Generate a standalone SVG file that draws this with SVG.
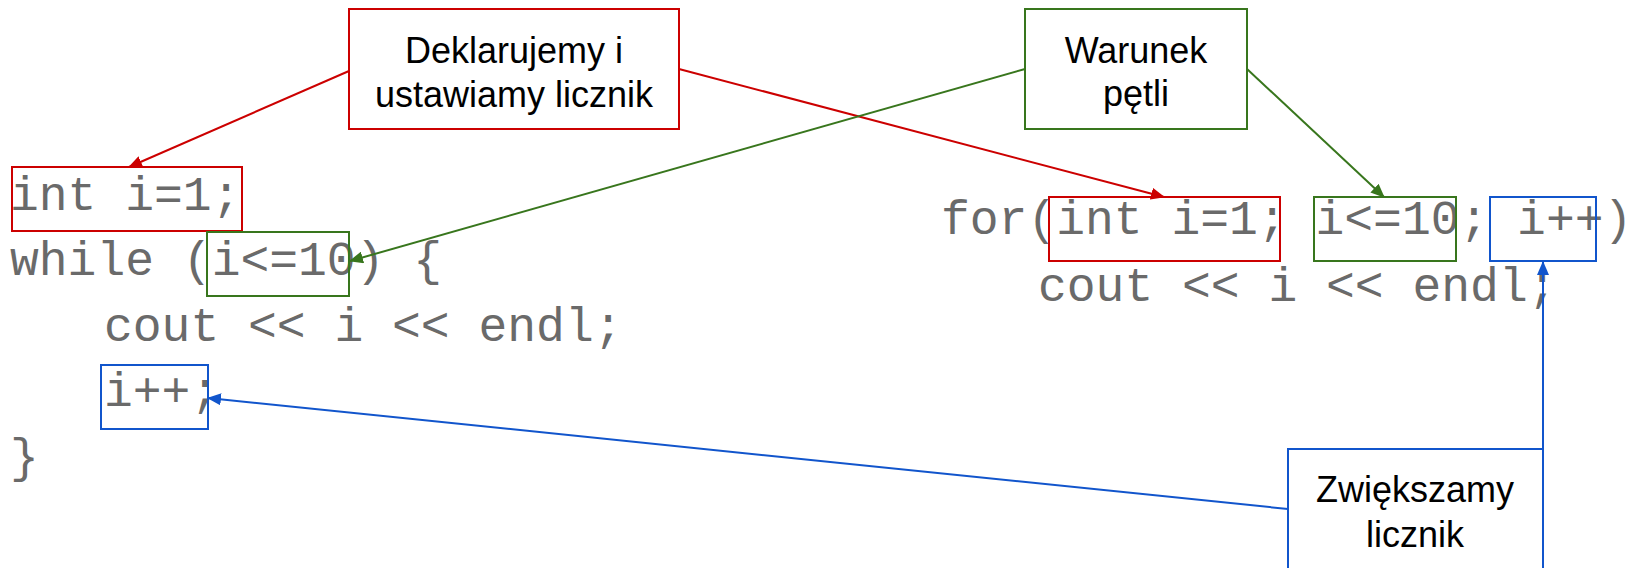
<svg xmlns="http://www.w3.org/2000/svg" width="1628" height="568" viewBox="0 0 1628 568">
<style>
.code{font-family:"Liberation Mono","Courier New",monospace;font-size:48px;fill:#6a6a6a;white-space:pre}
.lbl{font-family:"Liberation Sans",Arial,sans-serif;font-size:36px;fill:#000;text-anchor:middle}
.r{stroke:#cc0000;stroke-width:2;fill:none}
.g{stroke:#38761d;stroke-width:2;fill:none}
.b{stroke:#1155cc;stroke-width:2;fill:none}
.lr{stroke:#cc0000;stroke-width:2;fill:#fff}
.lg{stroke:#38761d;stroke-width:2;fill:#fff}
.lb{stroke:#1155cc;stroke-width:2;fill:#fff}
</style>
<defs>
<marker id="ar" markerUnits="userSpaceOnUse" markerWidth="14" markerHeight="12" refX="13" refY="6" orient="auto"><path d="M0,0 L14,6 L0,12 z" fill="#cc0000"/></marker>
<marker id="ag" markerUnits="userSpaceOnUse" markerWidth="14" markerHeight="12" refX="13" refY="6" orient="auto"><path d="M0,0 L14,6 L0,12 z" fill="#38761d"/></marker>
<marker id="ab" markerUnits="userSpaceOnUse" markerWidth="14" markerHeight="12" refX="13" refY="6" orient="auto"><path d="M0,0 L14,6 L0,12 z" fill="#1155cc"/></marker>
</defs>
<rect width="1628" height="568" fill="#fff"/>
<g id="code-while">
<text class="code" x="10" y="210">int i=1;</text>
<text class="code" x="10" y="275">while (i&lt;=10) {</text>
<text class="code" x="104" y="341">cout &lt;&lt; i &lt;&lt; endl;</text>
<text class="code" x="104" y="406">i++;</text>
<text class="code" x="10" y="472">}</text>
</g>
<g id="code-for">
<text class="code" x="941" y="234">for(int i=1; i&lt;=10; i++)</text>
<text class="code" x="1038" y="301">cout &lt;&lt; i &lt;&lt; endl;</text>
</g>
<g id="hl-int"><rect class="r" x="12" y="167" width="230" height="64"/></g>
<g id="hl-cond"><rect class="g" x="207" y="232" width="142" height="64"/></g>
<g id="hl-inc"><rect class="b" x="101" y="365" width="107" height="64"/></g>
<g id="hl-for-int"><rect class="r" x="1049" y="197" width="231" height="64"/></g>
<g id="hl-for-cond"><rect class="g" x="1314" y="197" width="142" height="64"/></g>
<g id="hl-for-inc"><rect class="b" x="1490" y="197" width="106" height="64"/></g>
<g id="connectors">
<line class="r" x1="349" y1="71" x2="129" y2="167" marker-end="url(#ar)"/>
<line class="r" x1="679" y1="69" x2="1164" y2="197" marker-end="url(#ar)"/>
<line class="g" x1="1025" y1="69" x2="350" y2="261" marker-end="url(#ag)"/>
<line class="g" x1="1247" y1="69" x2="1384" y2="197" marker-end="url(#ag)"/>
<line class="b" x1="1288" y1="509" x2="208" y2="398" marker-end="url(#ab)"/>
<line class="b" x1="1543" y1="570" x2="1543" y2="262" marker-end="url(#ab)"/>
</g>
<g id="label-decl">
<rect class="lr" x="349" y="9" width="330" height="120"/>
<text class="lbl" x="514" y="63">Deklarujemy i</text>
<text class="lbl" x="514" y="107">ustawiamy licznik</text>
</g>
<g id="label-cond">
<rect class="lg" x="1025" y="9" width="222" height="120"/>
<text class="lbl" x="1136" y="63">Warunek</text>
<text class="lbl" x="1136" y="106">pętli</text>
</g>
<g id="label-inc">
<rect class="lb" x="1288" y="449" width="255" height="140"/>
<text class="lbl" x="1415" y="502">Zwiększamy</text>
<text class="lbl" x="1415" y="547">licznik</text>
</g>
</svg>
